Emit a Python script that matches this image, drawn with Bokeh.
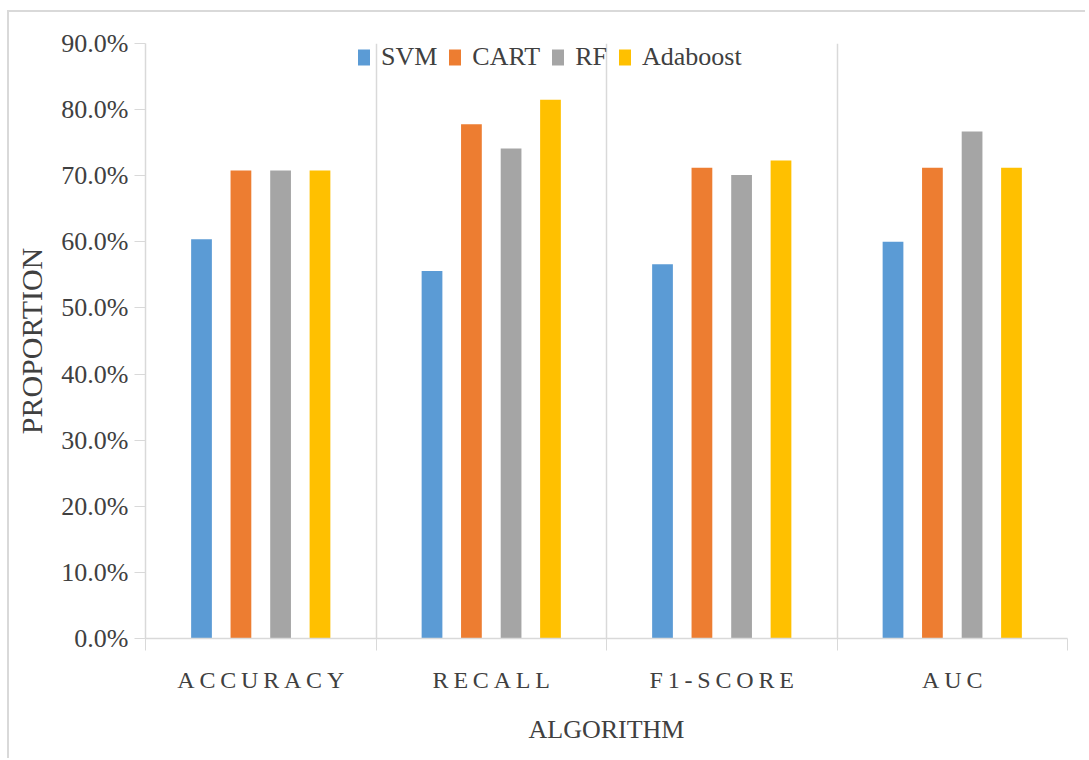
from bokeh.plotting import figure
from bokeh.models import (ColumnDataSource, Range1d, FixedTicker, NumeralTickFormatter)
from bokeh.embed import file_html
from bokeh.resources import INLINE

# Evaluation metrics per algorithm (proportions)
metrics = ["ACCURACY", "RECALL", "F1-SCORE", "AUC"]
algorithms = ["SVM", "CART", "RF", "Adaboost"]
svm = [0.604, 0.556, 0.566, 0.600]
cart = [0.708, 0.778, 0.712, 0.712]
rf = [0.708, 0.741, 0.701, 0.767]
adaboost = [0.708, 0.815, 0.723, 0.712]
y_ticks = [0.0, 0.1, 0.2, 0.3, 0.4, 0.5, 0.6, 0.7, 0.8, 0.9]

series = [svm, cart, rf, adaboost]
colors = ["#5b9bd5", "#ed7d31", "#a5a5a5", "#ffc000"]
offsets = [-0.257, -0.086, 0.086, 0.257]
bar_w = 0.09

FONT = "Liberation Serif"
TEXT = "#404040"
LINE = "#d9d9d9"

p = figure(width=1078, height=748, output_backend="svg", toolbar_location=None,
           x_range=Range1d(0, 4), y_range=Range1d(0, 0.9))
p.margin = (10, 0, 0, 7)
p.styles = {"border-top": "2px solid #d9d9d9", "border-left": "2px solid #d9d9d9"}
p.min_border_left = 136
p.min_border_top = 31
p.min_border_right = 20
p.min_border_bottom = 122
p.outline_line_color = None

for name, vals, col, off in zip(algorithms, series, colors, offsets):
    src = ColumnDataSource(dict(x=[i + 0.5 + off for i in range(len(metrics))], top=vals))
    p.vbar(x="x", top="top", width=bar_w, bottom=0, source=src,
           fill_color=col, line_color=None, legend_label=name)

# x axis: labels at category centres, tick marks at category boundaries
thin = "\u2009"
p.xaxis.ticker = FixedTicker(ticks=[i + 0.5 for i in range(len(metrics))],
                             minor_ticks=[0, 1, 2, 3, 4])
p.xaxis.major_label_overrides = {i + 0.5: thin.join(m) for i, m in enumerate(metrics)}
p.xaxis.major_tick_line_color = None
p.xaxis.major_tick_out = 0
p.xaxis.major_tick_in = 0
p.xaxis.minor_tick_out = 12
p.xaxis.minor_tick_in = 0
p.xaxis.minor_tick_line_color = LINE
p.xaxis.axis_line_color = LINE
p.xaxis.axis_line_width = 1.5
p.xaxis.major_label_standoff = 16
p.xaxis.major_label_text_font = FONT
p.xaxis.major_label_text_font_size = "24px"
p.xaxis.major_label_text_color = TEXT
p.xaxis.axis_label = "ALGORITHM"
p.xaxis.axis_label_text_font = FONT
p.xaxis.axis_label_text_font_size = "26px"
p.xaxis.axis_label_text_font_style = "normal"
p.xaxis.axis_label_text_color = TEXT
p.xaxis.axis_label_standoff = 19

p.xgrid.ticker = FixedTicker(ticks=[0, 1, 2, 3, 4])
p.xgrid.grid_line_color = LINE
p.xgrid.grid_line_width = 1.5
p.ygrid.grid_line_color = None

p.yaxis.ticker = FixedTicker(ticks=y_ticks)
p.yaxis.formatter = NumeralTickFormatter(format="0.0%")
p.yaxis.minor_tick_line_color = None
p.yaxis.major_tick_out = 11
p.yaxis.major_tick_in = 0
p.yaxis.major_tick_line_color = LINE
p.yaxis.axis_line_color = LINE
p.yaxis.axis_line_width = 1.5
p.yaxis.major_label_standoff = 6
p.yaxis.major_label_text_font = FONT
p.yaxis.major_label_text_font_size = "26px"
p.yaxis.major_label_text_color = TEXT
p.yaxis.axis_label = "PROPORTION"
p.yaxis.axis_label_text_font = FONT
p.yaxis.axis_label_text_font_size = "30px"
p.yaxis.axis_label_text_font_style = "normal"
p.yaxis.axis_label_text_color = TEXT
p.yaxis.axis_label_standoff = 10

leg = p.legend[0]
leg.orientation = "horizontal"
leg.location = (211, 566)
leg.background_fill_alpha = 0
leg.border_line_color = None
leg.padding = 0
leg.margin = 0
leg.spacing = 10
leg.label_standoff = 10
leg.glyph_width = 15
leg.glyph_height = 20
leg.label_text_font = FONT
leg.label_text_font_size = "26px"
leg.label_text_color = TEXT

open("out.html", "w").write(file_html(p, INLINE))
